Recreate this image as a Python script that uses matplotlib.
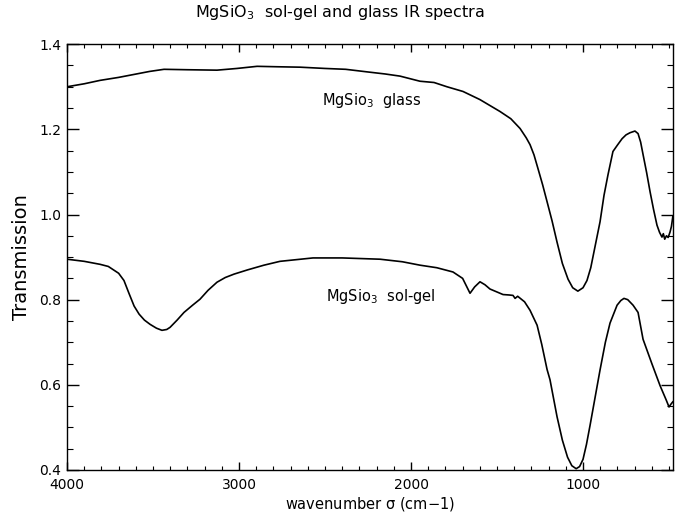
import numpy as np
import matplotlib
matplotlib.use("Agg")
import matplotlib.pyplot as plt
from matplotlib.ticker import MultipleLocator

# wavenumber (cm-1) and transmission
glass_wn = [4000, 3900, 3808, 3700, 3610, 3520, 3436, 3300, 3128, 3012, 2895,
            2780, 2645, 2500, 2380, 2256, 2150, 2064, 1948, 1866, 1791, 1698,
            1600, 1483, 1420, 1366, 1330, 1308, 1285, 1262, 1235, 1209, 1180,
            1151, 1120, 1087, 1060, 1030, 1000, 977, 955, 930, 901, 878, 855,
            826, 800, 773, 750, 727, 698, 680, 665, 651, 630, 610, 590, 570,
            555, 541, 533, 525, 515, 505, 494, 486, 478]
glass_tr = [1.300, 1.307, 1.315, 1.322, 1.329, 1.336, 1.341, 1.340, 1.339, 1.343,
            1.348, 1.347, 1.346, 1.343, 1.341, 1.335, 1.330, 1.325, 1.313, 1.310,
            1.300, 1.289, 1.270, 1.242, 1.225, 1.202, 1.180, 1.164, 1.140, 1.108,
            1.070, 1.030, 0.985, 0.935, 0.885, 0.848, 0.828, 0.820, 0.828, 0.845,
            0.875, 0.925, 0.983, 1.045, 1.093, 1.148, 1.163, 1.178, 1.187, 1.192,
            1.196, 1.190, 1.170, 1.141, 1.098, 1.053, 1.012, 0.975, 0.958, 0.947,
            0.955, 0.942, 0.950, 0.946, 0.959, 0.972, 0.995]

solgel_wn = [4000, 3900, 3808, 3760, 3700, 3669, 3640, 3610, 3581, 3550, 3517,
             3480, 3448, 3420, 3401, 3360, 3320, 3270, 3227, 3180, 3128, 3080,
             3029, 2950, 2855, 2762, 2570, 2400, 2180, 2050, 1948, 1850, 1756,
             1700, 1657, 1630, 1599, 1570, 1541, 1500, 1465, 1430, 1407, 1395,
             1380, 1340, 1308, 1267, 1240, 1209, 1192, 1151, 1120, 1090, 1065,
             1040, 1020, 1000, 980, 959, 930, 901, 870, 843, 802, 780, 762, 740,
             709, 680, 651, 600, 552, 517, 500, 488, 478]
solgel_tr = [0.895, 0.890, 0.883, 0.878, 0.862, 0.845, 0.815, 0.785, 0.766, 0.752,
             0.742, 0.733, 0.728, 0.730, 0.735, 0.752, 0.770, 0.787, 0.801, 0.822,
             0.841, 0.852, 0.860, 0.870, 0.881, 0.890, 0.898, 0.898, 0.895, 0.889,
             0.881, 0.875, 0.865, 0.850, 0.815, 0.830, 0.842, 0.835, 0.825, 0.818,
             0.812, 0.811, 0.810, 0.803, 0.808, 0.795, 0.775, 0.740, 0.695, 0.636,
             0.612, 0.525, 0.470, 0.430, 0.410, 0.403, 0.408, 0.425, 0.460, 0.505,
             0.570, 0.635, 0.700, 0.745, 0.787, 0.798, 0.803, 0.800, 0.787, 0.770,
             0.707, 0.650, 0.598, 0.565, 0.548, 0.555, 0.560]

xticks = [4000, 3000, 2000, 1000]
yticks = [0.4, 0.6, 0.8, 1.0, 1.2, 1.4]

fig = plt.figure(figsize=(6.75, 5.26), dpi=100)
ax = fig.add_axes([0.0993, 0.1065, 0.8977, 0.8095])

ax.plot(glass_wn, glass_tr, color="black", lw=1.2)
ax.plot(solgel_wn, solgel_tr, color="black", lw=1.2)

ax.text(2227, 1.268, "MgSio$_3$  glass", fontsize=10.5, ha="center", va="center")
ax.text(2175, 0.808, "MgSio$_3$  sol-gel", fontsize=10.5, ha="center", va="center")

ax.set_xlim(4000, 477)
ax.set_ylim(0.4, 1.4)
ax.set_xticks(xticks)
ax.set_yticks(yticks)
ax.set_yticklabels([f"{v:.1f}" for v in yticks])
ax.xaxis.set_minor_locator(MultipleLocator(100))
ax.yaxis.set_minor_locator(MultipleLocator(0.05))

ax.tick_params(axis="x", which="major", direction="in", length=6, width=1,
               top=True, labelsize=10, pad=6)
ax.tick_params(axis="x", which="minor", direction="in", length=3, width=0.8, top=True)
ax.tick_params(axis="y", which="major", direction="in", length=8.5, width=1,
               right=True, labelsize=10, pad=4)
ax.tick_params(axis="y", which="minor", direction="in", length=4.3, width=0.8, right=True)
for s in ax.spines.values():
    s.set_linewidth(1)

fig.text(340 / 675, 1 - 13 / 526, "MgSiO$_3$  sol-gel and glass IR spectra",
         fontsize=11.5, ha="center", va="center")
ax.set_xlabel("wavenumber σ (cm$-$1)", fontsize=10.5, labelpad=2)
ax.set_ylabel("Transmission", fontsize=14, labelpad=6)

fig.savefig("out.png", dpi=100)
